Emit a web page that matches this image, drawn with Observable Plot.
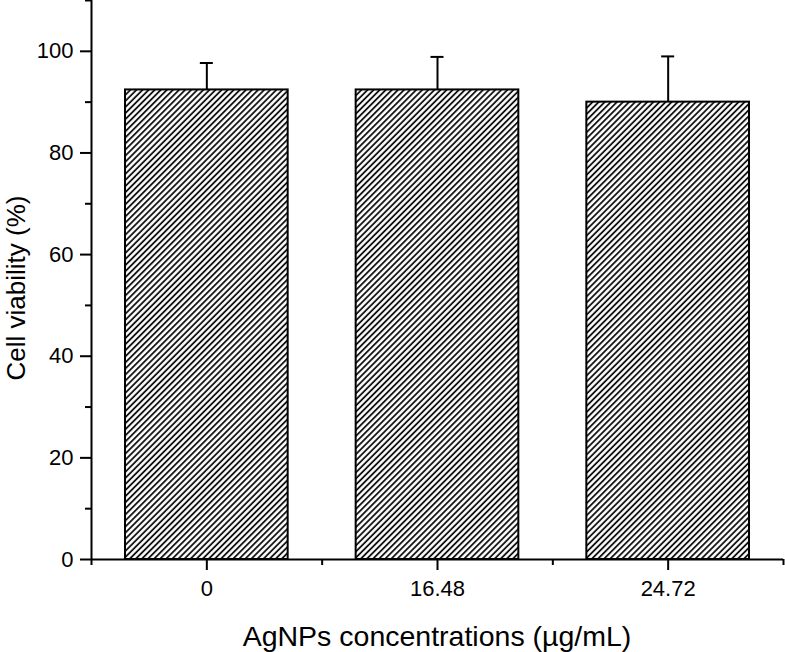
<!DOCTYPE html>
<html>
<head>
<meta charset="utf-8">
<script src="https://cdn.jsdelivr.net/npm/d3@7"></script>
<script src="https://cdn.jsdelivr.net/npm/@observablehq/plot@0.6"></script>
<style>
  html, body { margin: 0; padding: 0; background: #fff; }
  #chart { width: 785px; height: 652px; }
  svg { font-family: "Liberation Sans", Arial, Helvetica, sans-serif; }
</style>
</head>
<body>
<div id="chart"></div>
<script>
const categories = ["0", "16.48", "24.72"];
const viability = [92.4, 92.4, 90.0];
const errors = [5.3, 6.5, 9.0];
const majorYTicks = [0, 20, 40, 60, 80, 100];
const minorYTicks = [10, 30, 50, 70, 90, 110];

const data = categories.map((c, i) => ({
  cat: c, i, lo: i, hi: i + 1, mid: i + 0.5,
  v: viability[i], top: viability[i] + errors[i]
}));
const xMajor = data.map(d => d.mid);
const xMinor = d3.range(categories.length + 1);

const chart = Plot.plot({
  width: 785,
  height: 652,
  marginLeft: 91,
  marginRight: 2,
  marginTop: 0,
  marginBottom: 93,
  style: {fontFamily: '"Liberation Sans", Arial, sans-serif', background: "#fff", color: "#000"},
  x: {domain: [0, categories.length], axis: null},
  y: {domain: [0, 110], axis: null},
  marks: [
    Plot.rect(data, {x1: "lo", x2: "hi", y1: 0, y2: "v", insetLeft: 34, insetRight: 34,
      fill: "url(#hatch)", stroke: "#000", strokeWidth: 2}),
    Plot.ruleX(data, {x: "mid", y1: "v", y2: "top", stroke: "#000", strokeWidth: 2}),
    Plot.ruleY(data, {x1: "mid", x2: "mid", y: "top", insetLeft: -6.5, insetRight: -6.5, stroke: "#000", strokeWidth: 2}),
    // axes
    Plot.axisY(majorYTicks, {tickSize: 11, tickPadding: 7, tickFormat: d => d, fontSize: 22, strokeWidth: 2, label: null}),
    Plot.axisY(minorYTicks, {tickSize: 6, tickFormat: () => "", strokeWidth: 2, label: null}),
    Plot.axisX(xMajor, {tickSize: 11, tickPadding: 10, tickFormat: (d, k) => categories[k], fontSize: 22, strokeWidth: 2, label: null}),
    Plot.axisX(xMinor, {tickSize: 6, tickFormat: () => "", strokeWidth: 2, label: null}),
    Plot.ruleY([0], {stroke: "#000", strokeWidth: 2}),
    Plot.ruleX([0], {stroke: "#000", strokeWidth: 2})
  ]
});

// hatch pattern definition
const ns = "http://www.w3.org/2000/svg";
const defs = document.createElementNS(ns, "defs");
const pat = document.createElementNS(ns, "pattern");
pat.setAttribute("id", "hatch");
pat.setAttribute("patternUnits", "userSpaceOnUse");
pat.setAttribute("width", "4.3");
pat.setAttribute("height", "4.3");
pat.setAttribute("patternTransform", "rotate(45)");
const bg = document.createElementNS(ns, "rect");
bg.setAttribute("width", "4.3"); bg.setAttribute("height", "4.3"); bg.setAttribute("fill", "#fff");
const ln = document.createElementNS(ns, "line");
ln.setAttribute("x1", "1"); ln.setAttribute("y1", "0");
ln.setAttribute("x2", "1"); ln.setAttribute("y2", "4.3");
ln.setAttribute("stroke", "#000"); ln.setAttribute("stroke-width", "1.7");
pat.appendChild(bg); pat.appendChild(ln);
defs.appendChild(pat);
chart.insertBefore(defs, chart.firstChild);

// axis titles
const xt = document.createElementNS(ns, "text");
xt.setAttribute("x", 437); xt.setAttribute("y", 646);
xt.setAttribute("text-anchor", "middle");
xt.setAttribute("font-size", "28.5");
xt.setAttribute("fill", "#000");
xt.textContent = "AgNPs concentrations (\u00b5g/mL)";
chart.appendChild(xt);

const yt = document.createElementNS(ns, "text");
yt.setAttribute("transform", "translate(25,288) rotate(-90)");
yt.setAttribute("text-anchor", "middle");
yt.setAttribute("font-size", "26");
yt.setAttribute("fill", "#000");
yt.textContent = "Cell viability (%)";
chart.appendChild(yt);

document.getElementById("chart").appendChild(chart);
</script>
</body>
</html>
